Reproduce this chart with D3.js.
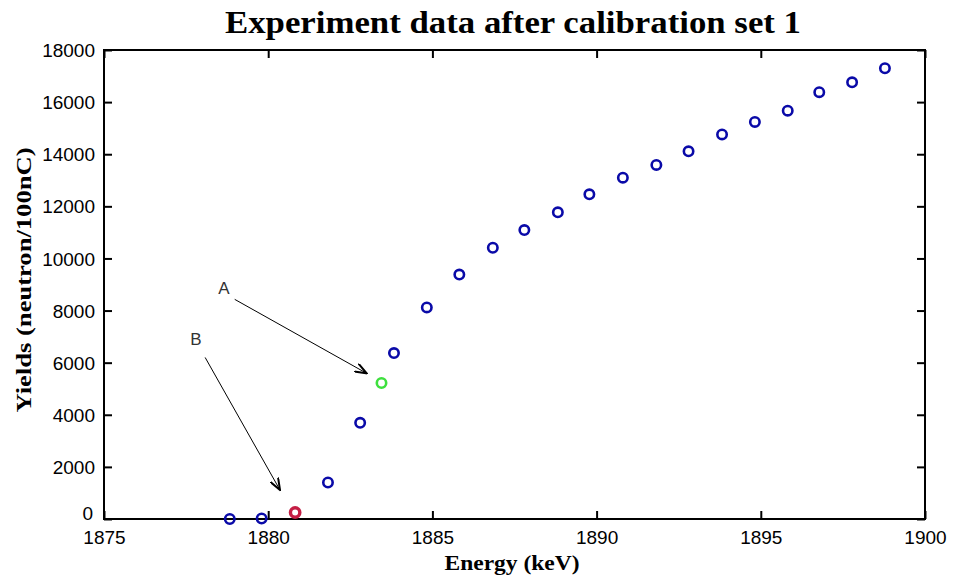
<!DOCTYPE html>
<html>
<head>
<meta charset="utf-8">
<script src="https://cdn.jsdelivr.net/npm/d3@7"></script>
<style>
  body { margin: 0; background: #fff; }
  svg { display: block; }
</style>
</head>
<body>
<svg id="chart" width="953" height="582"></svg>
<script>
// ---- data ----
const energies = [1878.83, 1879.8, 1880.82, 1881.82, 1882.8, 1883.45, 1883.83, 1884.83, 1885.82, 1886.84, 1887.8, 1888.82, 1889.78, 1890.8, 1891.82, 1892.8, 1893.82, 1894.82, 1895.82, 1896.78, 1897.78, 1898.78];
const yields   = [0, 20, 250, 1400, 3690, 5220, 6370, 8120, 9380, 10410, 11090, 11770, 12460, 13100, 13590, 14110, 14760, 15240, 15670, 16380, 16760, 17300];
const pointKind = ["n","n","B","n","n","A","n","n","n","n","n","n","n","n","n","n","n","n","n","n","n","n"];
const xTicks = [1875, 1880, 1885, 1890, 1895, 1900];
const yTicks = [0, 2000, 4000, 6000, 8000, 10000, 12000, 14000, 16000, 18000];
const annotLabels = ["A", "B"];
const annotTargets = [[1883.0, 5590], [1880.36, 1110]];
const annotSources = [[1878.98, 8430], [1878.08, 6200]];
const annotText = [[1878.65, 8866], [1877.8, 6908]];

const colors = { n: "#0a0aa8", A: "#3ee03e", B: "#c41e44" };

// ---- layout ----
const svg = d3.select("#chart");
const L = 104, R = 925, T = 50, B = 519;
const x = d3.scaleLinear().domain([1875, 1900]).range([L, R]);
const y = d3.scaleLinear().domain([0, 18000]).range([B, T]);
const serif = "Liberation Serif, Times New Roman, serif";
const tickFont = "Liberation Sans, Arial, sans-serif";

// title
svg.append("text").attr("x", 513).attr("y", 33).attr("text-anchor", "middle")
  .attr("font-family", serif).attr("font-weight", "bold")
  .attr("font-size", 31).attr("textLength", 576).attr("lengthAdjust", "spacingAndGlyphs")
  .text("Experiment data after calibration set 1");

// axes
const gx = svg.append("g").attr("transform", `translate(0,${B})`)
  .call(d3.axisBottom(x).tickValues(xTicks).tickSize(-8).tickPadding(12).tickFormat(d3.format("d")));
const gxTop = svg.append("g").attr("transform", `translate(0,${T})`)
  .call(d3.axisTop(x).tickValues(xTicks).tickSize(-8).tickFormat(""));
const gy = svg.append("g").attr("transform", `translate(${L},0)`)
  .call(d3.axisLeft(y).tickValues(yTicks).tickSize(-8).tickPadding(9).tickFormat(d3.format("d")));
const gyR = svg.append("g").attr("transform", `translate(${R},0)`)
  .call(d3.axisRight(y).tickValues(yTicks).tickSize(-8).tickFormat(""));

[gx, gxTop, gy, gyR].forEach(g => {
  g.select(".domain").remove();
  g.selectAll(".tick line").attr("stroke", "#000").attr("stroke-width", 2);
  g.selectAll(".tick text").attr("fill", "#000").attr("font-family", tickFont).attr("font-size", 19);
});
gy.selectAll(".tick text").attr("dy", "0.35em");
gy.selectAll(".tick").filter(d => d === 0).select("text").attr("x", -11).attr("dy", "0.02em");

// frame
svg.append("rect").attr("x", L).attr("y", T).attr("width", R - L).attr("height", B - T)
  .attr("fill", "none").attr("stroke", "#000").attr("stroke-width", 2);

// axis labels
svg.append("text").attr("x", 512).attr("y", 570).attr("text-anchor", "middle")
  .attr("font-family", serif).attr("font-weight", "bold")
  .attr("font-size", 22).attr("textLength", 135).attr("lengthAdjust", "spacingAndGlyphs")
  .text("Energy (keV)");
svg.append("text").attr("transform", "translate(31,280) rotate(-90)").attr("text-anchor", "middle")
  .attr("font-family", serif).attr("font-weight", "bold")
  .attr("font-size", 22).attr("textLength", 265).attr("lengthAdjust", "spacingAndGlyphs")
  .text("Yields (neutron/100nC)");

// arrow marker
svg.append("defs").append("marker").attr("id", "arr").attr("viewBox", "0 0 13 10")
  .attr("refX", 12).attr("refY", 5).attr("markerWidth", 13).attr("markerHeight", 10)
  .attr("markerUnits", "userSpaceOnUse").attr("orient", "auto")
  .append("path").attr("d", "M0,0.5 L12,5 L0,9.5").attr("fill", "none").attr("stroke", "#000").attr("stroke-width", 2);

annotLabels.forEach((lab, i) => {
  svg.append("line")
    .attr("x1", x(annotSources[i][0])).attr("y1", y(annotSources[i][1]))
    .attr("x2", x(annotTargets[i][0])).attr("y2", y(annotTargets[i][1]))
    .attr("stroke", "#000").attr("stroke-width", 1).attr("marker-end", "url(#arr)");
  svg.append("text").attr("x", x(annotText[i][0])).attr("y", y(annotText[i][1]))
    .attr("text-anchor", "middle").attr("dy", "0.35em")
    .attr("font-family", tickFont).attr("font-size", 17).attr("fill", "#333").text(lab);
});

// points
const pts = energies.map((e, i) => ({ e, v: yields[i], k: pointKind[i] }));
svg.append("g").selectAll("circle").data(pts).join("circle")
  .attr("cx", d => x(d.e)).attr("cy", d => y(d.v)).attr("r", 4.7)
  .attr("fill", "none").attr("stroke", d => colors[d.k])
  .attr("stroke-width", d => d.k === "B" ? 3.4 : 2.6);
</script>
</body>
</html>
